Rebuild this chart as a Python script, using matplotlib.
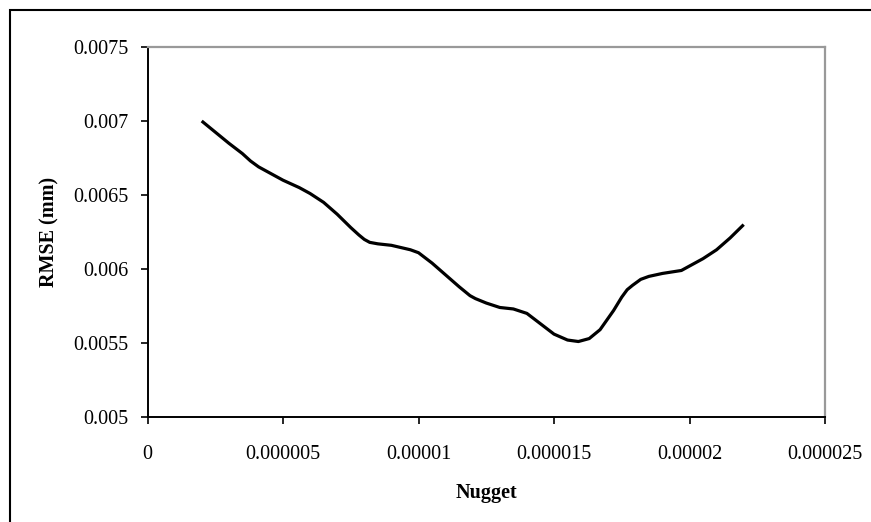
import matplotlib
matplotlib.use("Agg")
import matplotlib.pyplot as plt
from matplotlib.patches import Rectangle

# Data
nugget = [2.0e-6, 3.0e-6, 3.5e-6, 3.8e-6, 4.1e-6, 4.5e-6, 5.0e-6, 5.6e-6, 6.0e-6, 6.5e-6, 7.0e-6, 7.5e-6,
          7.8e-6, 8.0e-6, 8.2e-6, 8.5e-6, 9.0e-6, 9.7e-6, 10.0e-6, 10.5e-6, 11.0e-6, 11.5e-6, 11.7e-6,
          11.9e-6, 12.1e-6, 12.5e-6, 13.0e-6, 13.5e-6, 14.0e-6, 14.5e-6, 15.0e-6, 15.5e-6, 15.9e-6,
          16.3e-6, 16.7e-6, 17.2e-6, 17.5e-6, 17.7e-6, 17.9e-6, 18.2e-6, 18.5e-6, 19.0e-6, 19.7e-6,
          20.0e-6, 20.5e-6, 21.0e-6, 21.5e-6, 22.0e-6]
rmse = [0.00700, 0.00685, 0.00678, 0.00673, 0.00669, 0.00665, 0.00660, 0.00655, 0.00651, 0.00645,
        0.00637, 0.00628, 0.00623, 0.00620, 0.00618, 0.00617, 0.00616, 0.00613, 0.00611, 0.00604,
        0.00596, 0.00588, 0.00585, 0.00582, 0.00580, 0.00577, 0.00574, 0.00573, 0.00570, 0.00563,
        0.00556, 0.00552, 0.00551, 0.00553, 0.00559, 0.00572, 0.00581, 0.00586, 0.00589, 0.00593,
        0.00595, 0.00597, 0.00599, 0.00602, 0.00607, 0.00613, 0.00621, 0.00630]

xticks = [0, 0.000005, 0.00001, 0.000015, 0.00002, 0.000025]
xticklabels = ["0", "0.000005", "0.00001", "0.000015", "0.00002", "0.000025"]
yticks = [0.005, 0.0055, 0.006, 0.0065, 0.007, 0.0075]
yticklabels = ["0.005", "0.0055", "0.006", "0.0065", "0.007", "0.0075"]

W, H = 871, 522
plt.rcParams['font.family'] = ['Liberation Serif', 'DejaVu Serif']
fig = plt.figure(figsize=(W / 100, H / 100), dpi=100)

# axes position in pixels
left, right, top, bottom = 147.5, 825, 47, 417
ax = fig.add_axes([left / W, 1 - bottom / H, (right - left) / W, (bottom - top) / H])

ax.plot(nugget, rmse, color='black', linewidth=2.3, solid_capstyle='butt', solid_joinstyle='round')

ax.set_xlim(0, 0.000025)
ax.set_ylim(0.005, 0.0075)
ax.set_xticks(xticks)
ax.set_xticklabels(xticklabels)
ax.set_yticks(yticks)
ax.set_yticklabels(yticklabels)

for s in ['left', 'bottom']:
    ax.spines[s].set_color('black')
    ax.spines[s].set_linewidth(1.4)
for s in ['top', 'right']:
    ax.spines[s].set_color('#999999')
    ax.spines[s].set_linewidth(1.6)

ax.tick_params(axis='both', direction='out', length=5, width=1.2, color='black',
               labelsize=14.5)
ax.tick_params(axis='x', pad=15)
ax.tick_params(axis='y', pad=9)

fig.text(486 / W, 1 - 498 / H, "Nugget", ha='center', va='baseline',
         fontsize=14.5, fontweight='bold')
fig.text(49 / W, 1 - 232 / H, "RMSE (mm)", ha='center', va='center', rotation=90,
         fontsize=14.5, fontweight='bold')

# outer chart border
fig.patches.append(Rectangle((10 / W, -0.05), 1.2, 1 - 10 / H + 0.05, transform=fig.transFigure,
                             fill=False, edgecolor='black', linewidth=1.5))

fig.savefig("out.png", dpi=100)
